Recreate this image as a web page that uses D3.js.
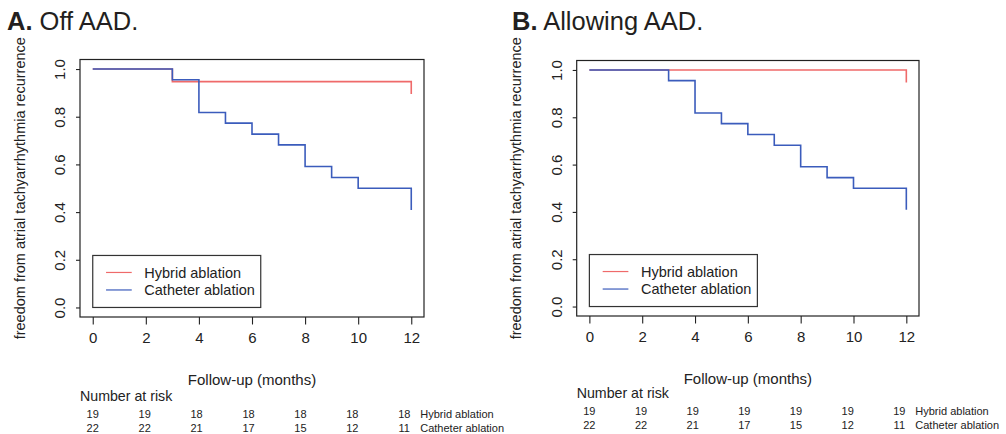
<!DOCTYPE html>
<html>
<head>
<meta charset="utf-8">
<script src="https://cdn.jsdelivr.net/npm/d3@7"></script>
<style>
  body { margin: 0; background: #fff; }
  svg { display: block; font-family: "Liberation Sans", Arial, sans-serif; }
</style>
</head>
<body>
<div id="chart"></div>
<script>
// Kaplan-Meier data
var hybridOffTimes = [0, 3, 12];
var hybridOffSurv = [1.0, 0.947, 0.895];
var hybridOnTimes = [0, 12];
var hybridOnSurv = [1.0, 0.947];
var catheterTimes = [0, 3, 4, 5, 6, 7, 8, 9, 10, 12];
var catheterSurv = [1.0, 0.955, 0.818, 0.773, 0.727, 0.682, 0.591, 0.545, 0.5, 0.409];

// number at risk table
var riskTimes = [0, 2, 4, 6, 8, 10, 12];
var hybridOffRisk = [19, 19, 18, 18, 18, 18, 18];
var hybridOnRisk = [19, 19, 19, 19, 19, 19, 19];
var catheterRisk = [22, 22, 21, 17, 15, 12, 11];

var xTicks = [0, 2, 4, 6, 8, 10, 12];
var yTicks = [0.0, 0.2, 0.4, 0.6, 0.8, 1.0];
var seriesNames = ["Hybrid ablation", "Catheter ablation"];
var panelLetters = ["A.", "B."];
var panelTitles = [" Off AAD.", " Allowing AAD."];

var colors = ["#ef6a6a", "#3b5cbc"];

var W = 1006, H = 434;
var svg = d3.select("#chart").append("svg").attr("width", W).attr("height", H);

function pairs(t, s) {
  return t.map(function (d, i) { return [d, s[i]]; });
}

var panels = [
  { box: { left: 80, top: 59.5, right: 424, bottom: 317 }, titleX: 7, riskShift: 0,
    curves: [pairs(hybridOffTimes, hybridOffSurv), pairs(catheterTimes, catheterSurv)],
    risk: [hybridOffRisk, catheterRisk] },
  { box: { left: 576.7, top: 60.5, right: 919, bottom: 316 }, titleX: 512, riskShift: -2,
    curves: [pairs(hybridOnTimes, hybridOnSurv), pairs(catheterTimes, catheterSurv)],
    risk: [hybridOnRisk, catheterRisk] }
];

panels.forEach(function (p, pi) {
  var b = p.box;
  var g = svg.append("g").attr("transform", "translate(" + b.left + "," + b.top + ")");
  var w = b.right - b.left, h = b.bottom - b.top;

  // R-style 4% padding on both axes
  var x = d3.scaleLinear().domain([-0.48, 12.48]).range([0, w]);
  var y = d3.scaleLinear().domain([-0.04, 1.04]).range([h, 0]);

  // title
  var t = svg.append("text").attr("x", p.titleX).attr("y", 29.5)
    .attr("font-size", 25.5).attr("fill", "#231f20");
  t.append("tspan").attr("font-weight", "bold").text(panelLetters[pi]);
  t.append("tspan").text(panelTitles[pi]);

  // curves (hybrid first so catheter sits on top)
  var line = d3.line().curve(d3.curveStepAfter)
    .x(function (d) { return x(d[0]); })
    .y(function (d) { return y(d[1]); });
  p.curves.forEach(function (c, ci) {
    g.append("path").datum(c).attr("d", line)
      .attr("fill", "none").attr("stroke", colors[ci]).attr("stroke-width", 1.6);
  });

  // box
  g.append("rect").attr("width", w).attr("height", h)
    .attr("fill", "none").attr("stroke", "#222").attr("stroke-width", 1.2);

  // x axis
  var xa = g.append("g").attr("transform", "translate(0," + h + ")")
    .call(d3.axisBottom(x).tickValues(xTicks).tickSize(7.5).tickPadding(8.3).tickFormat(d3.format("d")));
  xa.select(".domain").remove();
  xa.selectAll("line").attr("stroke", "#222").attr("stroke-width", 1.1);
  xa.selectAll("text").attr("font-size", 15).attr("fill", "#222").attr("font-family", null);

  // y axis, labels rotated as in R
  var ya = g.append("g")
    .call(d3.axisLeft(y).tickValues(yTicks).tickSize(4).tickFormat(d3.format(".1f")));
  ya.select(".domain").remove();
  ya.selectAll("line").attr("stroke", "#222").attr("stroke-width", 1.1);
  ya.selectAll("text")
    .attr("x", 0).attr("y", -15).attr("dy", 0)
    .attr("text-anchor", "middle").attr("transform", "rotate(-90)")
    .attr("font-size", 15).attr("fill", "#222").attr("font-family", null);

  // axis titles
  g.append("text").attr("transform", "translate(-55.5," + (h / 2) + ") rotate(-90)")
    .attr("text-anchor", "middle").attr("font-size", 14.5).attr("fill", "#222")
    .text("freedom from atrial tachyarrhythmia recurrence");
  g.append("text").attr("x", w / 2).attr("y", h + 67.5)
    .attr("text-anchor", "middle").attr("font-size", 15).attr("fill", "#222")
    .text("Follow-up (months)");

  // legend anchored at (0, 0)
  var lg = g.append("g").attr("transform", "translate(" + x(0) + "," + y(0) + ")");
  lg.append("rect").attr("x", 0).attr("y", -52).attr("width", 168).attr("height", 52)
    .attr("fill", "#fff").attr("stroke", "#333").attr("stroke-width", 1.2);
  seriesNames.forEach(function (name, i) {
    var ly = -35 + i * 17.5;
    lg.append("line").attr("x1", 13.3).attr("x2", 39).attr("y1", ly).attr("y2", ly)
      .attr("stroke", colors[i]).attr("stroke-width", 1.2);
    lg.append("text").attr("x", 51.6).attr("y", ly + 5.2)
      .attr("font-size", 14.5).attr("fill", "#222").text(name);
  });

  // number at risk
  var riskX = d3.scaleLinear().domain([0, 12]).range([x(0), x(12) - 7]);
  var rs = p.riskShift;
  g.append("text").attr("x", 0).attr("y", h + 84 + rs)
    .attr("font-size", 14.2).attr("fill", "#222").text("Number at risk");
  p.risk.forEach(function (row, ri) {
    var ry = h + 101 + ri * 13.5 + rs;
    g.selectAll(null).data(row).enter().append("text")
      .attr("x", function (d, i) { return riskX(riskTimes[i]); })
      .attr("y", ry).attr("text-anchor", "middle")
      .attr("font-size", 11).attr("fill", "#222")
      .text(function (d) { return d; });
    g.append("text").attr("x", riskX(12) + 16).attr("y", ry)
      .attr("font-size", 11).attr("fill", "#222").text(seriesNames[ri]);
  });
});
</script>
</body>
</html>
